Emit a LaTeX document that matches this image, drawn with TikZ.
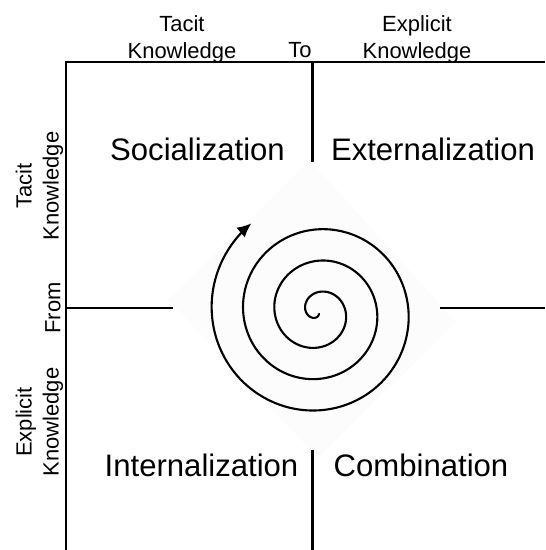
\documentclass[tikz,border=0pt]{standalone}
\usepackage{fontspec}
\setmainfont{Liberation Sans}
\usepackage{tikz}
\usetikzlibrary{arrows.meta}
\tikzstyle{quadrant} = [inner sep=0pt, anchor=base, font=\fontsize{17.7}{21}\selectfont]
\tikzstyle{axislabel} = [inner sep=0pt, align=center, font=\fontsize{12.5}{15.3}\selectfont]
\tikzstyle{gridline} = [draw, line width=1.7pt]
\tikzstyle{spiral} = [draw, line width=1.2pt, -{Latex[length=2.8mm,width=2.6mm]}]

\begin{document}
\begin{tikzpicture}[x=0.02cm, y=-0.02cm]
	\useasboundingbox (0,0) rectangle (545,550);
	
	% Backdrop behind the spiral
	\fill[black!1] (168,300) -- (310,160) -- (456,322) -- (318,458) -- cycle;
	
	% Place nodes
	\node [quadrant] 					(Socialization) 	at (197.5,161)	{Socialization};
	\node [quadrant] 					(Externalization) 	at (433,161)	{Externalization};
	\node [quadrant] 					(Internalization) 	at (201.5,476)	{Internalization};
	\node [quadrant] 					(Combination) 		at (421,476)	{Combination};
	\node [axislabel] 					(TacitTo) 			at (182,38.9)	{Tacit\\Knowledge};
	\node [axislabel, anchor=base] 		(To) 				at (300,58)		{To};
	\node [axislabel] 					(ExplicitTo) 		at (417,38.9)	{Explicit\\Knowledge};
	\node [axislabel, rotate=90] 		(TacitFrom) 		at (39.5,186)	{Tacit\\Knowledge};
	\node [axislabel, rotate=90] 		(From) 				at (53,308)		{From};
	\node [axislabel, rotate=90] 		(ExplicitFrom) 		at (39.5,422)	{Explicit\\Knowledge};
	
	%Draw grid
	\path [gridline] (66,550) -- (66,62) -- (545,62);
	\path [gridline] (312,62) -- (312,162);
	\path [gridline] (312,450) -- (312,550);
	\path [gridline] (66,308) -- (173,308);
	\path [gridline] (440,308) -- (545,308);
	
	%Draw spiral
	\path [spiral] plot[domain=0.3:22.18, samples=400, smooth] ({318+5*\x*cos(317.5-deg(\x))}, {312-5*\x*sin(317.5-deg(\x))});
	
\end{tikzpicture}
\end{document}
